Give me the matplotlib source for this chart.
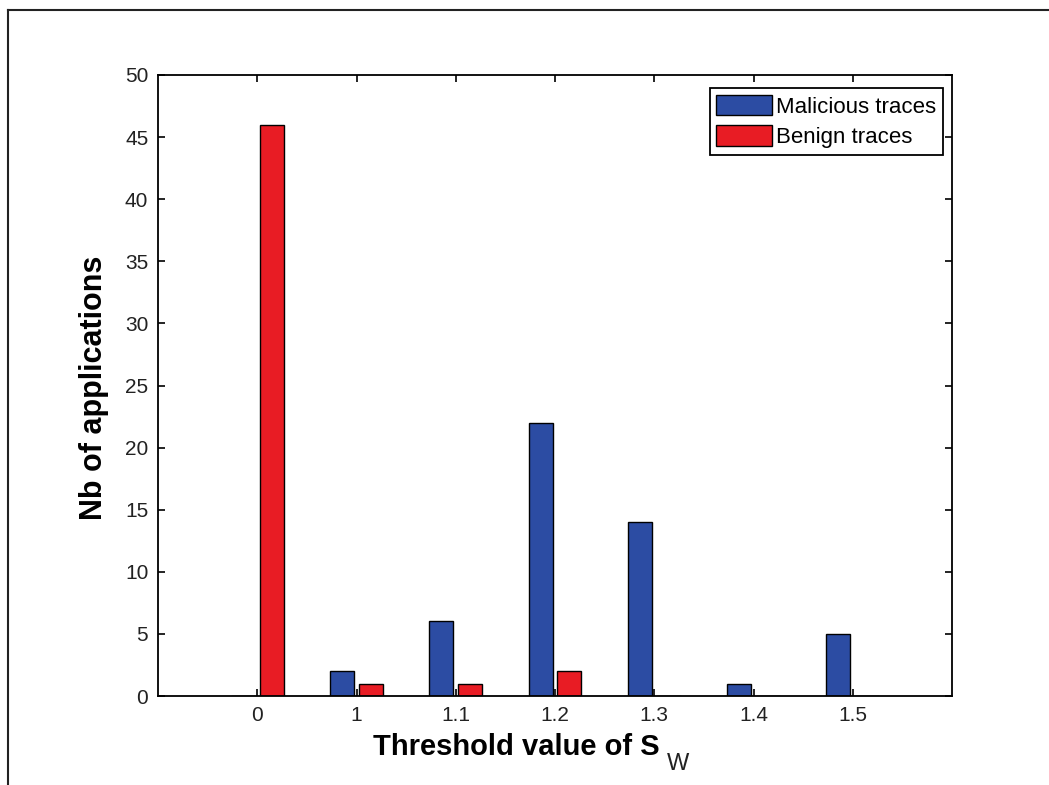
import numpy as np
import matplotlib
matplotlib.use("Agg")
import matplotlib.pyplot as plt
from matplotlib.lines import Line2D

plt.rcParams['font.family'] = ['Liberation Sans', 'DejaVu Sans']

# data
thresholds = ['0', '1', '1.1', '1.2', '1.3', '1.4', '1.5']
malicious = [0, 2, 6, 22, 14, 1, 5]
benign = [46, 1, 1, 2, 0, 0, 0]
series_names = ['Malicious traces', 'Benign traces']
y_ticks = [0, 5, 10, 15, 20, 25, 30, 35, 40, 45, 50]

blue = '#2c4ca3'
red = '#e81c24'

fig = plt.figure(figsize=(10.49, 7.85), dpi=100)
ax = fig.add_axes([158 / 1049, 1 - 696 / 785, 794 / 1049, 621 / 785])

pos = np.arange(1, len(thresholds) + 1)
w = 0.24
off = 0.145
ax.bar(pos - off, malicious, width=w, color=blue, edgecolor='black',
       linewidth=1.0, label=series_names[0])
ax.bar(pos + off, benign, width=w, color=red, edgecolor='black',
       linewidth=1.0, label=series_names[1])

ax.set_xlim(0, 8)
ax.set_ylim(0, 50)
ax.set_xticks(pos)
ax.set_xticklabels(thresholds)
ax.set_yticks(y_ticks)
ax.tick_params(direction='in', length=5, width=1.2, top=True, right=True,
               labelsize=15, labelcolor='#222222', pad=7)
for s in ax.spines.values():
    s.set_linewidth(1.3)

leg = ax.legend(loc='upper right', bbox_to_anchor=(0.989, 0.979),
                borderaxespad=0, fontsize=16, fancybox=False,
                framealpha=1, edgecolor='black', handlelength=2.5,
                handleheight=1.05, handletextpad=0.2, labelspacing=0.35,
                borderpad=0.3)
leg.get_frame().set_linewidth(1.3)

# axis labels (MATLAB-like placement, subscript drawn separately)
fig.text(373 / 1049, 1 - 755 / 785, 'Threshold value of S', fontsize=21,
         fontweight='bold', ha='left', va='baseline')
fig.text(667 / 1049, 1 - 770 / 785, 'W', fontsize=17, color='#222222',
         ha='left', va='baseline')
fig.text(94 / 1049, 1 - 388 / 785, 'Nb of applications', fontsize=22,
         fontweight='bold', rotation=90, ha='center', va='center')

# outer frame lines (top and left visible in the picture)
fig.add_artist(Line2D([8 / 1049, 8 / 1049], [0, 1 - 10 / 785],
                      color='#222222', linewidth=1.5))
fig.add_artist(Line2D([8 / 1049, 1], [1 - 10 / 785, 1 - 10 / 785],
                      color='#222222', linewidth=1.5))

fig.savefig('out.png', dpi=100)
